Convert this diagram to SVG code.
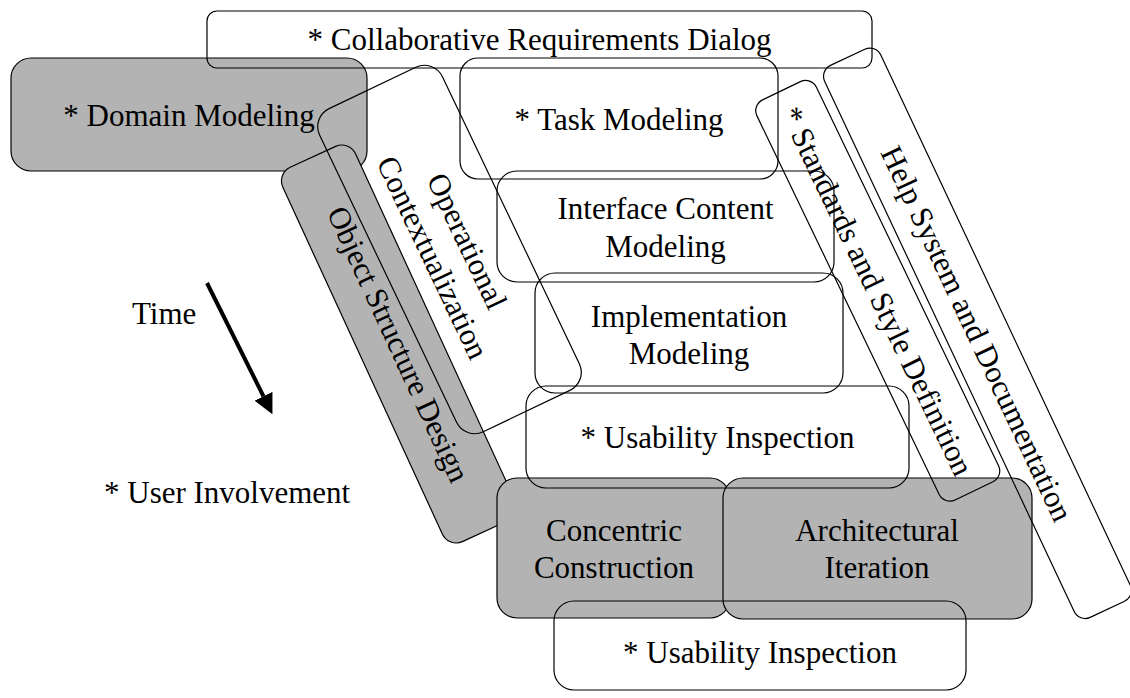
<svg xmlns="http://www.w3.org/2000/svg" width="1130" height="698" viewBox="0 0 1130 698">
  <defs>
    <style>
      .box{fill:none;stroke:#000;stroke-width:1.2}
      .shade{fill:#b3b3b3;stroke:#000;stroke-width:1.2}
      text{font-family:"Liberation Serif","Times New Roman",serif;font-size:31px;fill:#000;text-anchor:middle}
      .free{text-anchor:start}
      .time{stroke:#000;stroke-width:4;fill:none}
    </style>
    <marker id="head" viewBox="0 0 20 20" refX="0" refY="10" markerWidth="20" markerHeight="20" markerUnits="userSpaceOnUse" orient="auto">
      <path d="M0,0 L20,10 L0,20 z" fill="#000"/>
    </marker>
  </defs>
  <rect width="1130" height="698" fill="#fff"/>

  <!-- shaded activities -->
  <g id="domain-modeling">
    <rect class="shade" x="11" y="58" width="356" height="113" rx="20"/>
    <text x="189" y="126">* Domain Modeling</text>
  </g>
  <g id="object-structure-design" transform="translate(399,344) rotate(65.3)">
    <rect class="shade" x="-206" y="-40" width="412" height="80" rx="15"/>
    <text x="0" y="11">Object Structure Design</text>
  </g>
  <g id="concentric-construction">
    <rect class="shade" x="497" y="478" width="233" height="140" rx="20"/>
    <text x="614" y="541">Concentric</text>
    <text x="614" y="578">Construction</text>
  </g>
  <g id="architectural-iteration">
    <rect class="shade" x="723" y="478" width="309" height="141" rx="20"/>
    <text x="877" y="541">Architectural</text>
    <text x="877" y="578">Iteration</text>
  </g>

  <!-- outlined activities -->
  <g id="collaborative-requirements-dialog">
    <rect class="box" x="207" y="11" width="665" height="57" rx="10"/>
    <text x="539.5" y="50">* Collaborative Requirements Dialog</text>
  </g>
  <g id="task-modeling">
    <rect class="box" x="460" y="58" width="318" height="121" rx="18"/>
    <text x="619" y="130">* Task Modeling</text>
  </g>
  <g id="interface-content-modeling">
    <rect class="box" x="497" y="171" width="337" height="111" rx="20"/>
    <text x="665.5" y="219">Interface Content</text>
    <text x="665.5" y="256.5">Modeling</text>
  </g>
  <g id="implementation-modeling">
    <rect class="box" x="535" y="273" width="308" height="120" rx="20"/>
    <text x="689" y="327">Implementation</text>
    <text x="689" y="364">Modeling</text>
  </g>
  <g id="usability-inspection-1">
    <rect class="box" x="526" y="386" width="383" height="102" rx="20"/>
    <text x="717.5" y="448">* Usability Inspection</text>
  </g>
  <g id="usability-inspection-2">
    <rect class="box" x="554" y="601" width="412" height="89" rx="20"/>
    <text x="760" y="663">* Usability Inspection</text>
  </g>
  <g id="operational-contextualization" transform="translate(449.5,249.5) rotate(64.5)">
    <rect class="box" x="-179" y="-68" width="358" height="136" rx="20"/>
    <text x="0" y="-9">Operational</text>
    <text x="0" y="29">Contextualization</text>
  </g>
  <g id="standards-style-definition" transform="translate(877.75,290.8) rotate(64.3)">
    <rect class="box" x="-222" y="-33" width="444" height="66" rx="12"/>
    <text x="0" y="11">* Standards and Style Definition</text>
  </g>
  <g id="help-system-documentation" transform="translate(977.5,333.3) rotate(64.8)">
    <rect class="box" x="-305" y="-31" width="610" height="62" rx="12"/>
    <text x="0" y="11">Help System and Documentation</text>
  </g>

  <!-- legend labels -->
  <g id="time-label">
    <text class="free" x="132" y="324">Time</text>
  </g>
  <g id="user-involvement-label">
    <text class="free" x="104" y="503">* User Involvement</text>
  </g>

  <g id="connectors">
    <line class="time" x1="207" y1="283" x2="263.5" y2="396.3" marker-end="url(#head)"/>
  </g>
</svg>
